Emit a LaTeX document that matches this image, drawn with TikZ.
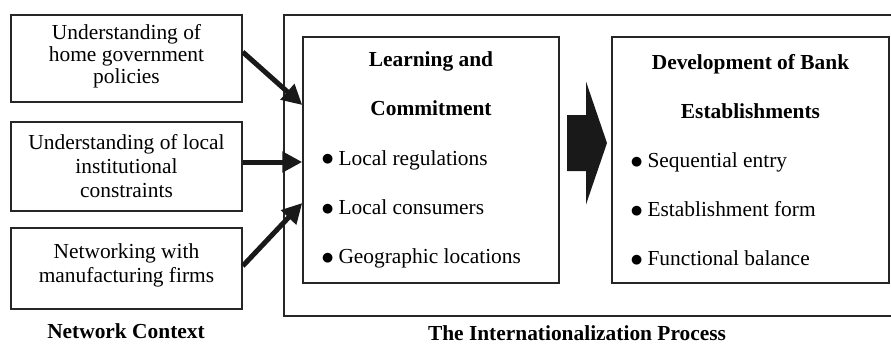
\documentclass[tikz,border=0pt]{standalone}
\usepackage{fontspec}
\setmainfont{Liberation Serif}
\newfontfamily\symfont{DejaVu Sans}
\usepackage{tikz}
\usetikzlibrary{arrows.meta,calc}

\newcommand{\dotitem}{\raisebox{1.1pt}{\symfont\fontsize{6.4}{6.4}\selectfont ●}\ }

\begin{document}
\begin{tikzpicture}[
    x=0.5pt, y=-0.5pt,
    font=\fontsize{10.7}{12}\selectfont,
    ctxbox/.style={
        rectangle,
        draw=black!85,
        line width=0.75pt,
        align=center,
        minimum width=115.5pt,
        inner sep=2pt
    },
    stagebox/.style={
        rectangle,
        draw=black!85,
        line width=0.75pt,
        align=flush left,
        minimum height=123pt,
        inner xsep=9.5pt,
        font=\fontsize{10.7}{24.6}\selectfont
    },
    framebox/.style={
        rectangle,
        draw=black!85,
        line width=0.75pt
    },
    heading/.style={font=\bfseries\fontsize{10.7}{12}\selectfont},
    arrow/.style={-{Triangle[length=10pt,width=10pt]}, line width=2.5pt, black!90}
]
\useasboundingbox (0,0) rectangle (891,344);
\clip (0,0) rectangle (891,344);

% network context (left column)
\node[ctxbox, minimum height=43.5pt] (home) at (126.5,58.5)
    {\\[-7pt]Understanding of\\[-1pt]home government\\[-1pt]policies};
\node[ctxbox, minimum height=44.5pt] (local) at (126.5,166.5)
    {Understanding of local\\institutional\\constraints};
\node[ctxbox, minimum height=40.5pt] (network) at (126.5,268.5)
    {\\[-8pt]Networking with\\manufacturing firms};
\node[heading] (ctxlabel) at (126,331) {Network Context};

% internationalization process (right frame)
\node[framebox, minimum width=338pt, minimum height=150.5pt] (process) at (622,165.5) {};
\node[heading] (proclabel) at (577,333) {The Internationalization Process};

\node[stagebox, text width=109pt] (learn) at (431,160) {%
    {\centering\bfseries Learning and\par Commitment\par}
    \dotitem Local regulations\par
    \dotitem Local consumers\par
    \dotitem Geographic locations};
\node[stagebox, text width=119.5pt] (bank) at (750.5,160) {%
    {\centering\bfseries Development of Bank\par Establishments\par}
    \dotitem Sequential entry\par
    \dotitem Establishment form\par
    \dotitem Functional balance};

% block arrow between the stages
\coordinate (mid) at ($(learn.east)!0.5!(bank.west)+(0,-17)$);
\fill[black!90] ($(mid)+(-18.5,-28)$) -- ++(19,0) -- ++(0,-33.5) -- ++(21,61.5)
    -- ++(-21,61.5) -- ++(0,-33.5) -- ++(-19,0) -- cycle;

% arrows
\draw[arrow] ([yshift=3.25pt]home.east) -- ([yshift=27.5pt]learn.west);
\draw[arrow] ([yshift=2.25pt]local.east) -- ([yshift=-1pt]learn.west);
\draw[arrow] ([yshift=1.25pt]network.east) -- ([yshift=-21.5pt]learn.west);

\end{tikzpicture}
\end{document}
